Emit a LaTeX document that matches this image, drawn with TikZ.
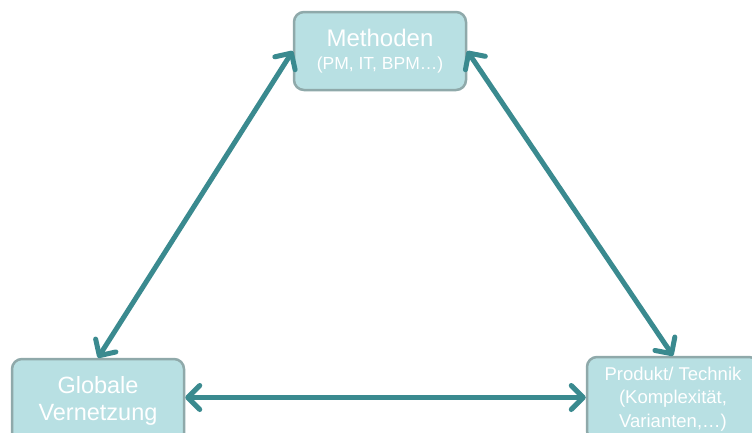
\documentclass[tikz,border=0pt]{standalone}
\usepackage{fontspec}
\setmainfont{Liberation Sans}
\usetikzlibrary{arrows.meta}
\definecolor{boxfill}{HTML}{B8E0E3}
\definecolor{boxline}{HTML}{8FA9AA}
\definecolor{link}{HTML}{3A8A8F}
\tikzset{
  topic/.style={draw=boxline, line width=2.5pt, fill=boxfill, rounded corners=10pt,
    minimum width=172pt, minimum height=78pt, text=white, align=center,
    inner sep=1pt},
  relation/.style={draw=link, line width=5pt,
    {Straight Barb[length=12pt, width=24pt, round]}-{Straight Barb[length=12pt, width=24pt, round]}}
}
\begin{document}
\begin{tikzpicture}[x=1pt, y=-1pt]
  \useasboundingbox (0,0) rectangle (752,432);
  \clip (0,0) rectangle (752,432);
  \node[topic, font=\fontsize{24}{26}\selectfont] (meth) at (380,51)
    {Methoden\\[-3pt]{\fontsize{17.5}{20}\selectfont (PM, IT, BPM\ldots)}};
  \node[topic, minimum height=84pt, font=\fontsize{23.5}{27}\selectfont] (glob) at (98,401)
    {Globale\\ Vernetzung};
  \node[topic, minimum height=84pt, font=\fontsize{18.5}{23.5}\selectfont] (prod) at (673,399)
    {Produkt/ Technik\\ (Komplexit\"at,\\ Varianten,\ldots)};
  \coordinate (gl) at ([yshift=3.5pt]glob.east);
  \draw[relation] (meth.west) -- (glob.north);
  \draw[relation] (meth.east) -- (prod.north);
  \draw[relation] (gl) -- (gl -| prod.west);
\end{tikzpicture}
\end{document}
